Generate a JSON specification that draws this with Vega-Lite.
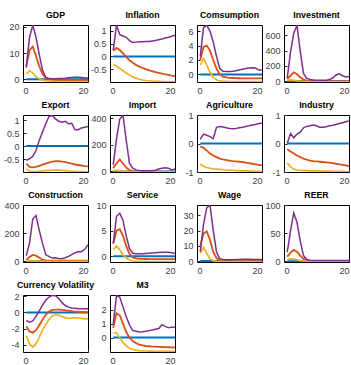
{
"$schema": "https://vega.github.io/schema/vega-lite/v6.json",
"padding": {"left": 2, "top": 10, "right": 0, "bottom": 0},
"background": "white",
"columns": 4,
"spacing": {"row": 33, "column": 22},
"bounds": "flush",
"data": {"values": [
{"v":"GDP","h":1,"b":0,"o":5,"y":2,"p":4.5},
{"v":"GDP","h":2,"b":0,"o":11,"y":3.3,"p":16},
{"v":"GDP","h":3,"b":0,"o":12.5,"y":2.5,"p":20.6},
{"v":"GDP","h":4,"b":0,"o":9,"y":1,"p":16},
{"v":"GDP","h":5,"b":0,"o":5,"y":0.2,"p":9.5},
{"v":"GDP","h":6,"b":0,"o":2,"y":-0.3,"p":3.5},
{"v":"GDP","h":7,"b":0,"o":0.5,"y":-0.5,"p":0.8},
{"v":"GDP","h":8,"b":0,"o":0,"y":-0.6,"p":0.3},
{"v":"GDP","h":9,"b":0,"o":-0.2,"y":-0.7,"p":0.2},
{"v":"GDP","h":10,"b":0,"o":-0.3,"y":-0.75,"p":0.2},
{"v":"GDP","h":11,"b":0,"o":-0.3,"y":-0.8,"p":0.3},
{"v":"GDP","h":12,"b":0,"o":-0.3,"y":-0.8,"p":0.3},
{"v":"GDP","h":13,"b":0,"o":-0.3,"y":-0.8,"p":0.4},
{"v":"GDP","h":14,"b":0,"o":-0.3,"y":-0.8,"p":0.6},
{"v":"GDP","h":15,"b":0,"o":-0.3,"y":-0.8,"p":0.7},
{"v":"GDP","h":16,"b":0,"o":-0.3,"y":-0.8,"p":0.8},
{"v":"GDP","h":17,"b":0,"o":-0.3,"y":-0.8,"p":0.8},
{"v":"GDP","h":18,"b":0,"o":-0.3,"y":-0.8,"p":0.7},
{"v":"GDP","h":19,"b":0,"o":-0.3,"y":-0.8,"p":0.5},
{"v":"GDP","h":20,"b":0,"o":-0.3,"y":-0.8,"p":0.5},
{"v":"Inflation","h":1,"b":0,"o":0.22,"y":-0.3,"p":0.25},
{"v":"Inflation","h":2,"b":0,"o":0.33,"y":-0.38,"p":1.23},
{"v":"Inflation","h":3,"b":0,"o":0.25,"y":-0.47,"p":0.85},
{"v":"Inflation","h":4,"b":0,"o":0.12,"y":-0.56,"p":0.8},
{"v":"Inflation","h":5,"b":0,"o":-0.02,"y":-0.65,"p":0.75},
{"v":"Inflation","h":6,"b":0,"o":-0.15,"y":-0.73,"p":0.62},
{"v":"Inflation","h":7,"b":0,"o":-0.25,"y":-0.8,"p":0.55},
{"v":"Inflation","h":8,"b":0,"o":-0.33,"y":-0.85,"p":0.56},
{"v":"Inflation","h":9,"b":0,"o":-0.4,"y":-0.89,"p":0.57},
{"v":"Inflation","h":10,"b":0,"o":-0.45,"y":-0.92,"p":0.57},
{"v":"Inflation","h":11,"b":0,"o":-0.5,"y":-0.94,"p":0.58},
{"v":"Inflation","h":12,"b":0,"o":-0.54,"y":-0.95,"p":0.58},
{"v":"Inflation","h":13,"b":0,"o":-0.58,"y":-0.96,"p":0.6},
{"v":"Inflation","h":14,"b":0,"o":-0.61,"y":-0.97,"p":0.62},
{"v":"Inflation","h":15,"b":0,"o":-0.64,"y":-0.97,"p":0.65},
{"v":"Inflation","h":16,"b":0,"o":-0.67,"y":-0.98,"p":0.68},
{"v":"Inflation","h":17,"b":0,"o":-0.7,"y":-0.98,"p":0.72},
{"v":"Inflation","h":18,"b":0,"o":-0.72,"y":-0.99,"p":0.75},
{"v":"Inflation","h":19,"b":0,"o":-0.75,"y":-0.99,"p":0.79},
{"v":"Inflation","h":20,"b":0,"o":-0.77,"y":-1.0,"p":0.83},
{"v":"Comsumption","h":1,"b":0,"o":2.0,"y":1.3,"p":2.5},
{"v":"Comsumption","h":2,"b":0,"o":3.8,"y":2.2,"p":6.5},
{"v":"Comsumption","h":3,"b":0,"o":4.0,"y":1.3,"p":6.8},
{"v":"Comsumption","h":4,"b":0,"o":3.3,"y":0.3,"p":6.0},
{"v":"Comsumption","h":5,"b":0,"o":2.0,"y":-0.4,"p":4.5},
{"v":"Comsumption","h":6,"b":0,"o":0.8,"y":-0.75,"p":2.5},
{"v":"Comsumption","h":7,"b":0,"o":0.0,"y":-0.9,"p":0.8},
{"v":"Comsumption","h":8,"b":0,"o":-0.3,"y":-0.95,"p":0.45},
{"v":"Comsumption","h":9,"b":0,"o":-0.42,"y":-0.97,"p":0.42},
{"v":"Comsumption","h":10,"b":0,"o":-0.48,"y":-0.98,"p":0.42},
{"v":"Comsumption","h":11,"b":0,"o":-0.5,"y":-0.98,"p":0.45},
{"v":"Comsumption","h":12,"b":0,"o":-0.52,"y":-0.99,"p":0.52},
{"v":"Comsumption","h":13,"b":0,"o":-0.53,"y":-0.99,"p":0.62},
{"v":"Comsumption","h":14,"b":0,"o":-0.54,"y":-0.99,"p":0.72},
{"v":"Comsumption","h":15,"b":0,"o":-0.55,"y":-1.0,"p":0.82},
{"v":"Comsumption","h":16,"b":0,"o":-0.55,"y":-1.0,"p":0.9},
{"v":"Comsumption","h":17,"b":0,"o":-0.55,"y":-1.0,"p":0.92},
{"v":"Comsumption","h":18,"b":0,"o":-0.55,"y":-1.0,"p":0.88},
{"v":"Comsumption","h":19,"b":0,"o":-0.55,"y":-1.0,"p":0.6},
{"v":"Comsumption","h":20,"b":0,"o":-0.55,"y":-1.0,"p":0.6},
{"v":"Investment","h":1,"b":0,"o":30,"y":10,"p":40},
{"v":"Investment","h":2,"b":0,"o":70,"y":15,"p":380},
{"v":"Investment","h":3,"b":0,"o":115,"y":10,"p":630},
{"v":"Investment","h":4,"b":0,"o":90,"y":5,"p":730},
{"v":"Investment","h":5,"b":0,"o":50,"y":0,"p":390},
{"v":"Investment","h":6,"b":0,"o":20,"y":-3,"p":100},
{"v":"Investment","h":7,"b":0,"o":5,"y":-5,"p":35},
{"v":"Investment","h":8,"b":0,"o":0,"y":-5,"p":20},
{"v":"Investment","h":9,"b":0,"o":-3,"y":-5,"p":15},
{"v":"Investment","h":10,"b":0,"o":-3,"y":-5,"p":10},
{"v":"Investment","h":11,"b":0,"o":-3,"y":-5,"p":10},
{"v":"Investment","h":12,"b":0,"o":-3,"y":-5,"p":10},
{"v":"Investment","h":13,"b":0,"o":-3,"y":-5,"p":12},
{"v":"Investment","h":14,"b":0,"o":-3,"y":-5,"p":20},
{"v":"Investment","h":15,"b":0,"o":-3,"y":-5,"p":40},
{"v":"Investment","h":16,"b":0,"o":-3,"y":-5,"p":80},
{"v":"Investment","h":17,"b":0,"o":-3,"y":-5,"p":95},
{"v":"Investment","h":18,"b":0,"o":-3,"y":-5,"p":70},
{"v":"Investment","h":19,"b":0,"o":-3,"y":-5,"p":55},
{"v":"Investment","h":20,"b":0,"o":-3,"y":-5,"p":60},
{"v":"Export","h":1,"b":0,"o":-0.68,"y":-0.88,"p":-0.55},
{"v":"Export","h":2,"b":0,"o":-0.8,"y":-0.97,"p":-0.49},
{"v":"Export","h":3,"b":0,"o":-0.82,"y":-0.98,"p":-0.4},
{"v":"Export","h":4,"b":0,"o":-0.8,"y":-0.98,"p":-0.17},
{"v":"Export","h":5,"b":0,"o":-0.76,"y":-0.97,"p":0.22},
{"v":"Export","h":6,"b":0,"o":-0.72,"y":-0.96,"p":0.54},
{"v":"Export","h":7,"b":0,"o":-0.68,"y":-0.95,"p":0.86},
{"v":"Export","h":8,"b":0,"o":-0.64,"y":-0.94,"p":1.14},
{"v":"Export","h":9,"b":0,"o":-0.6,"y":-0.93,"p":1.18},
{"v":"Export","h":10,"b":0,"o":-0.58,"y":-0.93,"p":1.05},
{"v":"Export","h":11,"b":0,"o":-0.58,"y":-0.93,"p":0.96},
{"v":"Export","h":12,"b":0,"o":-0.6,"y":-0.94,"p":0.92},
{"v":"Export","h":13,"b":0,"o":-0.62,"y":-0.95,"p":0.96},
{"v":"Export","h":14,"b":0,"o":-0.65,"y":-0.96,"p":0.86},
{"v":"Export","h":15,"b":0,"o":-0.68,"y":-0.97,"p":0.88},
{"v":"Export","h":16,"b":0,"o":-0.71,"y":-0.97,"p":0.63},
{"v":"Export","h":17,"b":0,"o":-0.73,"y":-0.98,"p":0.63},
{"v":"Export","h":18,"b":0,"o":-0.75,"y":-0.98,"p":0.7},
{"v":"Export","h":19,"b":0,"o":-0.77,"y":-0.99,"p":0.73},
{"v":"Export","h":20,"b":0,"o":-0.78,"y":-0.99,"p":0.76},
{"v":"Import","h":1,"b":0,"o":25,"y":5,"p":50},
{"v":"Import","h":2,"b":0,"o":60,"y":8,"p":245},
{"v":"Import","h":3,"b":0,"o":90,"y":5,"p":393},
{"v":"Import","h":4,"b":0,"o":60,"y":2,"p":425},
{"v":"Import","h":5,"b":0,"o":30,"y":0,"p":233},
{"v":"Import","h":6,"b":0,"o":10,"y":-2,"p":61},
{"v":"Import","h":7,"b":0,"o":3,"y":-2,"p":25},
{"v":"Import","h":8,"b":0,"o":0,"y":-2,"p":12},
{"v":"Import","h":9,"b":0,"o":-1,"y":-2,"p":7},
{"v":"Import","h":10,"b":0,"o":-1,"y":-2,"p":5},
{"v":"Import","h":11,"b":0,"o":-1,"y":-2,"p":5},
{"v":"Import","h":12,"b":0,"o":-1,"y":-2,"p":5},
{"v":"Import","h":13,"b":0,"o":-1,"y":-2,"p":7},
{"v":"Import","h":14,"b":0,"o":-1,"y":-2,"p":10},
{"v":"Import","h":15,"b":0,"o":-1,"y":-2,"p":18},
{"v":"Import","h":16,"b":0,"o":-1,"y":-2,"p":25},
{"v":"Import","h":17,"b":0,"o":-1,"y":-2,"p":28},
{"v":"Import","h":18,"b":0,"o":-1,"y":-2,"p":25},
{"v":"Import","h":19,"b":0,"o":-1,"y":-2,"p":12},
{"v":"Import","h":20,"b":0,"o":-1,"y":-2,"p":18},
{"v":"Agriculture","h":1,"b":0,"o":-0.1,"y":-0.72,"p":0.15},
{"v":"Agriculture","h":2,"b":0,"o":-0.15,"y":-0.8,"p":0.33},
{"v":"Agriculture","h":3,"b":0,"o":-0.25,"y":-0.84,"p":0.29},
{"v":"Agriculture","h":4,"b":0,"o":-0.35,"y":-0.87,"p":0.24},
{"v":"Agriculture","h":5,"b":0,"o":-0.42,"y":-0.89,"p":0.17},
{"v":"Agriculture","h":6,"b":0,"o":-0.48,"y":-0.9,"p":0.57},
{"v":"Agriculture","h":7,"b":0,"o":-0.53,"y":-0.91,"p":0.6},
{"v":"Agriculture","h":8,"b":0,"o":-0.56,"y":-0.92,"p":0.58},
{"v":"Agriculture","h":9,"b":0,"o":-0.58,"y":-0.93,"p":0.55},
{"v":"Agriculture","h":10,"b":0,"o":-0.6,"y":-0.94,"p":0.53},
{"v":"Agriculture","h":11,"b":0,"o":-0.62,"y":-0.94,"p":0.52},
{"v":"Agriculture","h":12,"b":0,"o":-0.63,"y":-0.95,"p":0.53},
{"v":"Agriculture","h":13,"b":0,"o":-0.64,"y":-0.95,"p":0.55},
{"v":"Agriculture","h":14,"b":0,"o":-0.65,"y":-0.96,"p":0.57},
{"v":"Agriculture","h":15,"b":0,"o":-0.67,"y":-0.96,"p":0.6},
{"v":"Agriculture","h":16,"b":0,"o":-0.69,"y":-0.97,"p":0.62},
{"v":"Agriculture","h":17,"b":0,"o":-0.71,"y":-0.97,"p":0.65},
{"v":"Agriculture","h":18,"b":0,"o":-0.73,"y":-0.98,"p":0.67},
{"v":"Agriculture","h":19,"b":0,"o":-0.75,"y":-0.98,"p":0.7},
{"v":"Agriculture","h":20,"b":0,"o":-0.77,"y":-0.99,"p":0.72},
{"v":"Industry","h":1,"b":0,"o":-0.2,"y":-0.68,"p":0.0},
{"v":"Industry","h":2,"b":0,"o":-0.28,"y":-0.82,"p":0.35},
{"v":"Industry","h":3,"b":0,"o":-0.35,"y":-0.9,"p":0.2},
{"v":"Industry","h":4,"b":0,"o":-0.42,"y":-0.93,"p":0.33},
{"v":"Industry","h":5,"b":0,"o":-0.48,"y":-0.94,"p":0.4},
{"v":"Industry","h":6,"b":0,"o":-0.53,"y":-0.95,"p":0.55},
{"v":"Industry","h":7,"b":0,"o":-0.57,"y":-0.95,"p":0.6},
{"v":"Industry","h":8,"b":0,"o":-0.6,"y":-0.96,"p":0.62},
{"v":"Industry","h":9,"b":0,"o":-0.62,"y":-0.96,"p":0.65},
{"v":"Industry","h":10,"b":0,"o":-0.63,"y":-0.96,"p":0.62},
{"v":"Industry","h":11,"b":0,"o":-0.64,"y":-0.97,"p":0.57},
{"v":"Industry","h":12,"b":0,"o":-0.65,"y":-0.97,"p":0.57},
{"v":"Industry","h":13,"b":0,"o":-0.66,"y":-0.97,"p":0.59},
{"v":"Industry","h":14,"b":0,"o":-0.67,"y":-0.97,"p":0.62},
{"v":"Industry","h":15,"b":0,"o":-0.69,"y":-0.98,"p":0.64},
{"v":"Industry","h":16,"b":0,"o":-0.71,"y":-0.98,"p":0.67},
{"v":"Industry","h":17,"b":0,"o":-0.73,"y":-0.98,"p":0.7},
{"v":"Industry","h":18,"b":0,"o":-0.75,"y":-0.98,"p":0.73},
{"v":"Industry","h":19,"b":0,"o":-0.77,"y":-0.99,"p":0.76},
{"v":"Industry","h":20,"b":0,"o":-0.8,"y":-0.99,"p":0.79},
{"v":"Construction","h":1,"b":0,"o":10,"y":3,"p":39},
{"v":"Construction","h":2,"b":0,"o":30,"y":5,"p":127},
{"v":"Construction","h":3,"b":0,"o":45,"y":3,"p":300},
{"v":"Construction","h":4,"b":0,"o":40,"y":1,"p":325},
{"v":"Construction","h":5,"b":0,"o":25,"y":0,"p":220},
{"v":"Construction","h":6,"b":0,"o":12,"y":-1,"p":127},
{"v":"Construction","h":7,"b":0,"o":6,"y":-1,"p":46},
{"v":"Construction","h":8,"b":0,"o":5,"y":-1,"p":35},
{"v":"Construction","h":9,"b":0,"o":5,"y":-1,"p":23},
{"v":"Construction","h":10,"b":0,"o":5,"y":-1,"p":25},
{"v":"Construction","h":11,"b":0,"o":5,"y":-1,"p":20},
{"v":"Construction","h":12,"b":0,"o":5,"y":-1,"p":18},
{"v":"Construction","h":13,"b":0,"o":5,"y":-1,"p":25},
{"v":"Construction","h":14,"b":0,"o":5,"y":-1,"p":35},
{"v":"Construction","h":15,"b":0,"o":5,"y":-1,"p":48},
{"v":"Construction","h":16,"b":0,"o":5,"y":-1,"p":60},
{"v":"Construction","h":17,"b":0,"o":5,"y":-1,"p":70},
{"v":"Construction","h":18,"b":0,"o":5,"y":-1,"p":68},
{"v":"Construction","h":19,"b":0,"o":5,"y":-1,"p":85},
{"v":"Construction","h":20,"b":0,"o":5,"y":-1,"p":118},
{"v":"Service","h":1,"b":0,"o":2.5,"y":1.3,"p":2.5},
{"v":"Service","h":2,"b":0,"o":5.0,"y":2.0,"p":7.8},
{"v":"Service","h":3,"b":0,"o":5.3,"y":1.3,"p":8.4},
{"v":"Service","h":4,"b":0,"o":4.0,"y":0.3,"p":7.0},
{"v":"Service","h":5,"b":0,"o":2.0,"y":-0.3,"p":4.0},
{"v":"Service","h":6,"b":0,"o":0.5,"y":-0.7,"p":1.5},
{"v":"Service","h":7,"b":0,"o":-0.2,"y":-0.9,"p":0.6},
{"v":"Service","h":8,"b":0,"o":-0.4,"y":-0.95,"p":0.5},
{"v":"Service","h":9,"b":0,"o":-0.5,"y":-0.97,"p":0.5},
{"v":"Service","h":10,"b":0,"o":-0.5,"y":-0.98,"p":0.5},
{"v":"Service","h":11,"b":0,"o":-0.52,"y":-0.99,"p":0.55},
{"v":"Service","h":12,"b":0,"o":-0.53,"y":-1.0,"p":0.6},
{"v":"Service","h":13,"b":0,"o":-0.54,"y":-1.0,"p":0.65},
{"v":"Service","h":14,"b":0,"o":-0.55,"y":-1.0,"p":0.7},
{"v":"Service","h":15,"b":0,"o":-0.55,"y":-1.0,"p":0.75},
{"v":"Service","h":16,"b":0,"o":-0.55,"y":-1.0,"p":0.8},
{"v":"Service","h":17,"b":0,"o":-0.55,"y":-1.0,"p":0.8},
{"v":"Service","h":18,"b":0,"o":-0.55,"y":-1.0,"p":0.8},
{"v":"Service","h":19,"b":0,"o":-0.55,"y":-1.0,"p":0.7},
{"v":"Service","h":20,"b":0,"o":-0.55,"y":-1.0,"p":0.6},
{"v":"Wage","h":1,"b":0,"o":10,"y":5,"p":6},
{"v":"Wage","h":2,"b":0,"o":18,"y":9,"p":24},
{"v":"Wage","h":3,"b":0,"o":19.5,"y":5,"p":35},
{"v":"Wage","h":4,"b":0,"o":14,"y":1.5,"p":36.5},
{"v":"Wage","h":5,"b":0,"o":6,"y":0.3,"p":20},
{"v":"Wage","h":6,"b":0,"o":2,"y":-0.2,"p":6},
{"v":"Wage","h":7,"b":0,"o":0.5,"y":-0.3,"p":1.5},
{"v":"Wage","h":8,"b":0,"o":0.1,"y":-0.4,"p":1},
{"v":"Wage","h":9,"b":0,"o":0,"y":-0.4,"p":0.8},
{"v":"Wage","h":10,"b":0,"o":0,"y":-0.4,"p":0.8},
{"v":"Wage","h":11,"b":0,"o":0,"y":-0.4,"p":0.9},
{"v":"Wage","h":12,"b":0,"o":0,"y":-0.4,"p":1},
{"v":"Wage","h":13,"b":0,"o":0,"y":-0.4,"p":1.1},
{"v":"Wage","h":14,"b":0,"o":0,"y":-0.4,"p":1.2},
{"v":"Wage","h":15,"b":0,"o":0,"y":-0.4,"p":1.2},
{"v":"Wage","h":16,"b":0,"o":0,"y":-0.4,"p":1.2},
{"v":"Wage","h":17,"b":0,"o":0,"y":-0.4,"p":1.1},
{"v":"Wage","h":18,"b":0,"o":0,"y":-0.4,"p":1.0},
{"v":"Wage","h":19,"b":0,"o":0,"y":-0.4,"p":1.0},
{"v":"Wage","h":20,"b":0,"o":0,"y":-0.4,"p":1.0},
{"v":"REER","h":1,"b":0,"o":8,"y":3,"p":16},
{"v":"REER","h":2,"b":0,"o":15,"y":4,"p":54},
{"v":"REER","h":3,"b":0,"o":20,"y":3.5,"p":86},
{"v":"REER","h":4,"b":0,"o":17,"y":2.5,"p":69},
{"v":"REER","h":5,"b":0,"o":10,"y":1,"p":36},
{"v":"REER","h":6,"b":0,"o":4,"y":0.3,"p":10},
{"v":"REER","h":7,"b":0,"o":1,"y":0,"p":3},
{"v":"REER","h":8,"b":0,"o":0.3,"y":-0.3,"p":1.5},
{"v":"REER","h":9,"b":0,"o":0.2,"y":-0.5,"p":1},
{"v":"REER","h":10,"b":0,"o":0.2,"y":-0.5,"p":1},
{"v":"REER","h":11,"b":0,"o":0.2,"y":-0.5,"p":1},
{"v":"REER","h":12,"b":0,"o":0.2,"y":-0.5,"p":1},
{"v":"REER","h":13,"b":0,"o":0.2,"y":-0.5,"p":1},
{"v":"REER","h":14,"b":0,"o":0.2,"y":-0.5,"p":1.2},
{"v":"REER","h":15,"b":0,"o":0.2,"y":-0.5,"p":1.3},
{"v":"REER","h":16,"b":0,"o":0.2,"y":-0.5,"p":1.2},
{"v":"REER","h":17,"b":0,"o":0.2,"y":-0.5,"p":1},
{"v":"REER","h":18,"b":0,"o":0.2,"y":-0.5,"p":1},
{"v":"REER","h":19,"b":0,"o":0.2,"y":-0.5,"p":1},
{"v":"REER","h":20,"b":0,"o":0.2,"y":-0.5,"p":1},
{"v":"Currency Volatility","h":1,"b":0,"o":-1.7,"y":-2.9,"p":-1.0},
{"v":"Currency Volatility","h":2,"b":0,"o":-2.35,"y":-3.9,"p":-1.2},
{"v":"Currency Volatility","h":3,"b":0,"o":-2.5,"y":-4.3,"p":-1.05},
{"v":"Currency Volatility","h":4,"b":0,"o":-2.2,"y":-3.9,"p":-0.5},
{"v":"Currency Volatility","h":5,"b":0,"o":-1.6,"y":-3.1,"p":0.2},
{"v":"Currency Volatility","h":6,"b":0,"o":-0.9,"y":-2.2,"p":0.9},
{"v":"Currency Volatility","h":7,"b":0,"o":-0.3,"y":-1.5,"p":1.5},
{"v":"Currency Volatility","h":8,"b":0,"o":0.1,"y":-0.9,"p":1.9},
{"v":"Currency Volatility","h":9,"b":0,"o":0.3,"y":-0.45,"p":2.1},
{"v":"Currency Volatility","h":10,"b":0,"o":0.35,"y":-0.3,"p":2.05},
{"v":"Currency Volatility","h":11,"b":0,"o":0.35,"y":-0.35,"p":1.7},
{"v":"Currency Volatility","h":12,"b":0,"o":0.3,"y":-0.5,"p":1.2},
{"v":"Currency Volatility","h":13,"b":0,"o":0.25,"y":-0.65,"p":0.85},
{"v":"Currency Volatility","h":14,"b":0,"o":0.2,"y":-0.75,"p":0.65},
{"v":"Currency Volatility","h":15,"b":0,"o":0.15,"y":-0.7,"p":0.55},
{"v":"Currency Volatility","h":16,"b":0,"o":0.1,"y":-0.65,"p":0.5},
{"v":"Currency Volatility","h":17,"b":0,"o":0.08,"y":-0.7,"p":0.45},
{"v":"Currency Volatility","h":18,"b":0,"o":0.05,"y":-0.75,"p":0.45},
{"v":"Currency Volatility","h":19,"b":0,"o":0.02,"y":-0.8,"p":0.45},
{"v":"Currency Volatility","h":20,"b":0,"o":0.0,"y":-0.8,"p":0.45},
{"v":"M3","h":1,"b":0,"o":0.7,"y":0.35,"p":1.0},
{"v":"M3","h":2,"b":0,"o":1.75,"y":0.35,"p":3.0},
{"v":"M3","h":3,"b":0,"o":1.6,"y":0.0,"p":2.9},
{"v":"M3","h":4,"b":0,"o":1.0,"y":-0.35,"p":2.2},
{"v":"M3","h":5,"b":0,"o":0.4,"y":-0.6,"p":1.5},
{"v":"M3","h":6,"b":0,"o":0.0,"y":-0.75,"p":0.9},
{"v":"M3","h":7,"b":0,"o":-0.25,"y":-0.85,"p":0.5},
{"v":"M3","h":8,"b":0,"o":-0.4,"y":-0.9,"p":0.45},
{"v":"M3","h":9,"b":0,"o":-0.5,"y":-0.93,"p":0.4},
{"v":"M3","h":10,"b":0,"o":-0.55,"y":-0.95,"p":0.42},
{"v":"M3","h":11,"b":0,"o":-0.6,"y":-0.96,"p":0.45},
{"v":"M3","h":12,"b":0,"o":-0.62,"y":-0.97,"p":0.5},
{"v":"M3","h":13,"b":0,"o":-0.64,"y":-0.97,"p":0.55},
{"v":"M3","h":14,"b":0,"o":-0.65,"y":-0.98,"p":0.6},
{"v":"M3","h":15,"b":0,"o":-0.66,"y":-0.98,"p":0.65},
{"v":"M3","h":16,"b":0,"o":-0.67,"y":-0.98,"p":0.92},
{"v":"M3","h":17,"b":0,"o":-0.68,"y":-0.99,"p":0.8},
{"v":"M3","h":18,"b":0,"o":-0.69,"y":-0.99,"p":0.7},
{"v":"M3","h":19,"b":0,"o":-0.7,"y":-0.99,"p":0.75},
{"v":"M3","h":20,"b":0,"o":-0.71,"y":-1.0,"p":0.76}
]},
"concat": [
{"title":{"text":"GDP","offset":2.8},"width":65,"height":57,"transform":[{"filter":"datum.v==='GDP'"},{"fold":["b","o","y","p"]}],"mark":{"type":"line","clip":true},"encoding":{"x":{"field":"h","type":"quantitative","scale":{"domain":[0,20]},"axis":{"values":[0,20]}},"y":{"field":"value","type":"quantitative","scale":{"domain":[-1,20.7],"nice":false,"zero":false},"axis":{"values":[0,10,20]}},"color":{"field":"key","type":"nominal","scale":{"domain":["b","o","y","p"],"range":["#0072BD","#D95319","#EDB120","#7E2F8E"]},"legend":null},"strokeWidth":{"field":"key","type":"nominal","scale":{"domain":["b","o","y","p"],"range":[2,1.5,1.5,1.5]},"legend":null}}},
{"title":{"text":"Inflation","offset":5.5},"width":65,"height":57,"transform":[{"filter":"datum.v==='Inflation'"},{"fold":["b","o","y","p"]}],"mark":{"type":"line","clip":true},"encoding":{"x":{"field":"h","type":"quantitative","scale":{"domain":[0,20]},"axis":{"values":[0,20]}},"y":{"field":"value","type":"quantitative","scale":{"domain":[-1.0,1.23],"nice":false,"zero":false},"axis":{"values":[-0.5,0,0.5,1]}},"color":{"field":"key","type":"nominal","scale":{"domain":["b","o","y","p"],"range":["#0072BD","#D95319","#EDB120","#7E2F8E"]},"legend":null},"strokeWidth":{"field":"key","type":"nominal","scale":{"domain":["b","o","y","p"],"range":[2,1.5,1.5,1.5]},"legend":null}}},
{"title":{"text":"Comsumption","offset":5.5},"width":65,"height":57,"transform":[{"filter":"datum.v==='Comsumption'"},{"fold":["b","o","y","p"]}],"mark":{"type":"line","clip":true},"encoding":{"x":{"field":"h","type":"quantitative","scale":{"domain":[0,20]},"axis":{"values":[0,20]}},"y":{"field":"value","type":"quantitative","scale":{"domain":[-1.05,6.85],"nice":false,"zero":false},"axis":{"values":[0,2,4,6]}},"color":{"field":"key","type":"nominal","scale":{"domain":["b","o","y","p"],"range":["#0072BD","#D95319","#EDB120","#7E2F8E"]},"legend":null},"strokeWidth":{"field":"key","type":"nominal","scale":{"domain":["b","o","y","p"],"range":[2,1.5,1.5,1.5]},"legend":null}}},
{"title":{"text":"Investment","offset":5.5},"width":65,"height":57,"transform":[{"filter":"datum.v==='Investment'"},{"fold":["b","o","y","p"]}],"mark":{"type":"line","clip":true},"encoding":{"x":{"field":"h","type":"quantitative","scale":{"domain":[0,20]},"axis":{"values":[0,20]}},"y":{"field":"value","type":"quantitative","scale":{"domain":[-12,735],"nice":false,"zero":false},"axis":{"values":[0,200,400,600]}},"color":{"field":"key","type":"nominal","scale":{"domain":["b","o","y","p"],"range":["#0072BD","#D95319","#EDB120","#7E2F8E"]},"legend":null},"strokeWidth":{"field":"key","type":"nominal","scale":{"domain":["b","o","y","p"],"range":[2,1.5,1.5,1.5]},"legend":null}}},
{"title":{"text":"Export","offset":5.5},"width":65,"height":57,"transform":[{"filter":"datum.v==='Export'"},{"fold":["b","o","y","p"]}],"mark":{"type":"line","clip":true},"encoding":{"x":{"field":"h","type":"quantitative","scale":{"domain":[0,20]},"axis":{"values":[0,20]}},"y":{"field":"value","type":"quantitative","scale":{"domain":[-1.0,1.2],"nice":false,"zero":false},"axis":{"values":[-0.5,0,0.5,1]}},"color":{"field":"key","type":"nominal","scale":{"domain":["b","o","y","p"],"range":["#0072BD","#D95319","#EDB120","#7E2F8E"]},"legend":null},"strokeWidth":{"field":"key","type":"nominal","scale":{"domain":["b","o","y","p"],"range":[2,1.5,1.5,1.5]},"legend":null}}},
{"title":{"text":"Import","offset":4.3},"width":65,"height":57,"transform":[{"filter":"datum.v==='Import'"},{"fold":["b","o","y","p"]}],"mark":{"type":"line","clip":true},"encoding":{"x":{"field":"h","type":"quantitative","scale":{"domain":[0,20]},"axis":{"values":[0,20]}},"y":{"field":"value","type":"quantitative","scale":{"domain":[-4,425],"nice":false,"zero":false},"axis":{"values":[0,200,400]}},"color":{"field":"key","type":"nominal","scale":{"domain":["b","o","y","p"],"range":["#0072BD","#D95319","#EDB120","#7E2F8E"]},"legend":null},"strokeWidth":{"field":"key","type":"nominal","scale":{"domain":["b","o","y","p"],"range":[2,1.5,1.5,1.5]},"legend":null}}},
{"title":{"text":"Agriculture","offset":1},"width":65,"height":57,"transform":[{"filter":"datum.v==='Agriculture'"},{"fold":["b","o","y","p"]}],"mark":{"type":"line","clip":true},"encoding":{"x":{"field":"h","type":"quantitative","scale":{"domain":[0,20]},"axis":{"values":[0,20]}},"y":{"field":"value","type":"quantitative","scale":{"domain":[-1,1],"nice":false,"zero":false},"axis":{"values":[-1,0,1]}},"color":{"field":"key","type":"nominal","scale":{"domain":["b","o","y","p"],"range":["#0072BD","#D95319","#EDB120","#7E2F8E"]},"legend":null},"strokeWidth":{"field":"key","type":"nominal","scale":{"domain":["b","o","y","p"],"range":[2,1.5,1.5,1.5]},"legend":null}}},
{"title":{"text":"Industry","offset":1},"width":65,"height":57,"transform":[{"filter":"datum.v==='Industry'"},{"fold":["b","o","y","p"]}],"mark":{"type":"line","clip":true},"encoding":{"x":{"field":"h","type":"quantitative","scale":{"domain":[0,20]},"axis":{"values":[0,20]}},"y":{"field":"value","type":"quantitative","scale":{"domain":[-1,1],"nice":false,"zero":false},"axis":{"values":[-1,0,1]}},"color":{"field":"key","type":"nominal","scale":{"domain":["b","o","y","p"],"range":["#0072BD","#D95319","#EDB120","#7E2F8E"]},"legend":null},"strokeWidth":{"field":"key","type":"nominal","scale":{"domain":["b","o","y","p"],"range":[2,1.5,1.5,1.5]},"legend":null}}},
{"title":{"text":"Construction","offset":1},"width":65,"height":57,"transform":[{"filter":"datum.v==='Construction'"},{"fold":["b","o","y","p"]}],"mark":{"type":"line","clip":true},"encoding":{"x":{"field":"h","type":"quantitative","scale":{"domain":[0,20]},"axis":{"values":[0,20]}},"y":{"field":"value","type":"quantitative","scale":{"domain":[-5,400],"nice":false,"zero":false},"axis":{"values":[0,200,400]}},"color":{"field":"key","type":"nominal","scale":{"domain":["b","o","y","p"],"range":["#0072BD","#D95319","#EDB120","#7E2F8E"]},"legend":null},"strokeWidth":{"field":"key","type":"nominal","scale":{"domain":["b","o","y","p"],"range":[2,1.5,1.5,1.5]},"legend":null}}},
{"title":{"text":"Service","offset":1},"width":65,"height":57,"transform":[{"filter":"datum.v==='Service'"},{"fold":["b","o","y","p"]}],"mark":{"type":"line","clip":true},"encoding":{"x":{"field":"h","type":"quantitative","scale":{"domain":[0,20]},"axis":{"values":[0,20]}},"y":{"field":"value","type":"quantitative","scale":{"domain":[-1.1,10],"nice":false,"zero":false},"axis":{"values":[0,5,10]}},"color":{"field":"key","type":"nominal","scale":{"domain":["b","o","y","p"],"range":["#0072BD","#D95319","#EDB120","#7E2F8E"]},"legend":null},"strokeWidth":{"field":"key","type":"nominal","scale":{"domain":["b","o","y","p"],"range":[2,1.5,1.5,1.5]},"legend":null}}},
{"title":{"text":"Wage","offset":5.5},"width":65,"height":57,"transform":[{"filter":"datum.v==='Wage'"},{"fold":["b","o","y","p"]}],"mark":{"type":"line","clip":true},"encoding":{"x":{"field":"h","type":"quantitative","scale":{"domain":[0,20]},"axis":{"values":[0,20]}},"y":{"field":"value","type":"quantitative","scale":{"domain":[-0.6,36.8],"nice":false,"zero":false},"axis":{"values":[0,10,20,30]}},"color":{"field":"key","type":"nominal","scale":{"domain":["b","o","y","p"],"range":["#0072BD","#D95319","#EDB120","#7E2F8E"]},"legend":null},"strokeWidth":{"field":"key","type":"nominal","scale":{"domain":["b","o","y","p"],"range":[2,1.5,1.5,1.5]},"legend":null}}},
{"title":{"text":"REER","offset":1},"width":65,"height":57,"transform":[{"filter":"datum.v==='REER'"},{"fold":["b","o","y","p"]}],"mark":{"type":"line","clip":true},"encoding":{"x":{"field":"h","type":"quantitative","scale":{"domain":[0,20]},"axis":{"values":[0,20]}},"y":{"field":"value","type":"quantitative","scale":{"domain":[-1.5,100],"nice":false,"zero":false},"axis":{"values":[0,50,100]}},"color":{"field":"key","type":"nominal","scale":{"domain":["b","o","y","p"],"range":["#0072BD","#D95319","#EDB120","#7E2F8E"]},"legend":null},"strokeWidth":{"field":"key","type":"nominal","scale":{"domain":["b","o","y","p"],"range":[2,1.5,1.5,1.5]},"legend":null}}},
{"title":{"text":"Currency Volatility","offset":2.2},"width":65,"height":57,"transform":[{"filter":"datum.v==='Currency Volatility'"},{"fold":["b","o","y","p"]}],"mark":{"type":"line","clip":true},"encoding":{"x":{"field":"h","type":"quantitative","scale":{"domain":[0,20]},"axis":{"values":[0,20]}},"y":{"field":"value","type":"quantitative","scale":{"domain":[-4.9,2.15],"nice":false,"zero":false},"axis":{"values":[-4,-2,0,2]}},"color":{"field":"key","type":"nominal","scale":{"domain":["b","o","y","p"],"range":["#0072BD","#D95319","#EDB120","#7E2F8E"]},"legend":null},"strokeWidth":{"field":"key","type":"nominal","scale":{"domain":["b","o","y","p"],"range":[2,1.5,1.5,1.5]},"legend":null}}},
{"title":{"text":"M3","offset":5.5},"width":65,"height":57,"transform":[{"filter":"datum.v==='M3'"},{"fold":["b","o","y","p"]}],"mark":{"type":"line","clip":true},"encoding":{"x":{"field":"h","type":"quantitative","scale":{"domain":[0,20]},"axis":{"values":[0,20]}},"y":{"field":"value","type":"quantitative","scale":{"domain":[-1.03,3.05],"nice":false,"zero":false},"axis":{"values":[0,1,2]}},"color":{"field":"key","type":"nominal","scale":{"domain":["b","o","y","p"],"range":["#0072BD","#D95319","#EDB120","#7E2F8E"]},"legend":null},"strokeWidth":{"field":"key","type":"nominal","scale":{"domain":["b","o","y","p"],"range":[2,1.5,1.5,1.5]},"legend":null}}}
],
"config": {
"view": {"stroke": "#000000", "strokeWidth": 1},
"axis": {"domain": false, "grid": false, "ticks": true, "tickSize": -3, "tickColor": "#262626", "labelPadding": 7, "labelFont": "Liberation Sans", "labelFontSize": 9, "labelColor": "#404040", "title": null, "labelExpr": "'' + datum.value"},
"title": {"font": "Liberation Sans", "fontSize": 8.8, "fontWeight": "bold", "color": "#000000", "anchor": "middle"}
}
}
